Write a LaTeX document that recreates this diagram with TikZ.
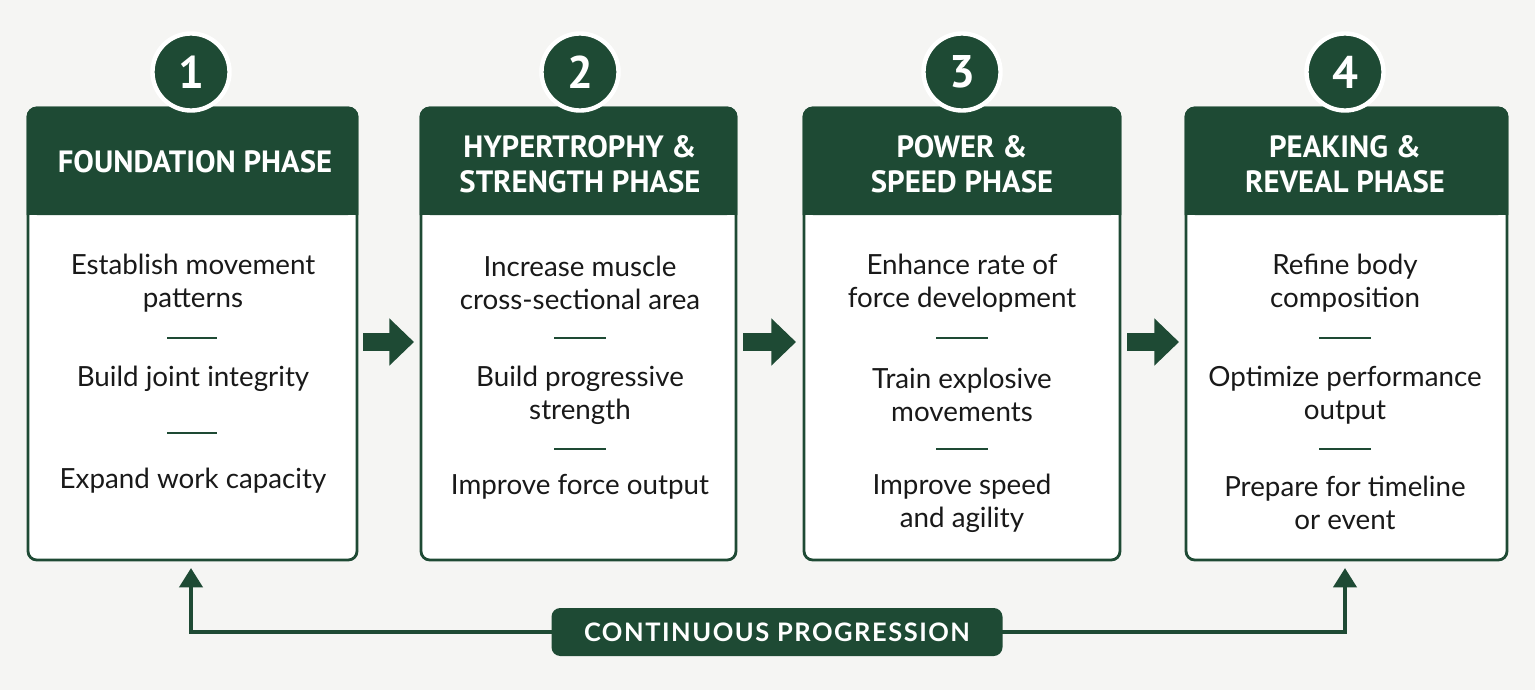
\documentclass[tikz,border=0pt]{standalone}
\usepackage{fontspec}
\setmainfont{Lato}
\newfontfamily\hdfont{PT Sans}
\usetikzlibrary{arrows.meta}
\definecolor{dg}{HTML}{1E4A34}
\definecolor{bg}{HTML}{F5F5F3}
\begin{document}
\begin{tikzpicture}[x=0.02cm,y=-0.02cm,
 box/.style={draw=dg,line width=1.6pt,rounded corners=5pt,fill=white},
 head/.style={fill=dg,rounded corners=5pt},
 htxt/.style={text=white,font=\hdfont\bfseries\fontsize{17.5}{20}\selectfont,align=center},
 num/.style={circle,fill=dg,draw=white,line width=2.5pt,minimum size=2.3cm*0.67,text=white,font=\hdfont\bfseries\fontsize{26}{28}\selectfont},
 btxt/.style={font=\fontsize{15.8}{19}\selectfont,align=center,text=black!90},
 sep/.style={dg,line width=1.4pt},
 flow/.style={-{Triangle[length=14pt,width=26pt]},dg,line width=10pt},
 loop/.style={-{Triangle[length=11pt,width=13pt]},dg,line width=2.5pt}]
\fill[bg] (0,0) rectangle (1535,690);
\useasboundingbox (0,0) rectangle (1535,690);
\foreach \n/\a/\b in {1/28/357,2/421/736,3/804/1120,4/1186/1507}{
 \draw[box] (\a,108) rectangle (\b,560);
 \fill[head] (\a,108) rectangle (\b,215);
 \fill[dg] (\a,160) rectangle (\b,215);
 \draw[dg,line width=1.6pt,rounded corners=5pt] (\a,215) -- (\a,108) -- (\b,108) -- (\b,215);
 \coordinate (b\n) at ({(\a+\b)/2},560);
}
\node[num] (c1) at (191,72) {1};
\node[num] (c2) at (580,72) {2};
\node[num] (c3) at (962,72) {3};
\node[num] (c4) at (1345,72) {4};
\node[htxt] (h1) at (195,162) {FOUNDATION PHASE};
\node[htxt] (h2) at (580,164) {HYPERTROPHY \&\\STRENGTH PHASE};
\node[htxt] (h3) at (962,164) {POWER \&\\SPEED PHASE};
\node[htxt] (h4) at (1345,164) {PEAKING \&\\REVEAL PHASE};
% box 1
\node[btxt] at (193,283) {Establish movement\\patterns};
\draw[sep] (167,338) -- (217,338);
\node[btxt] at (193,379) {Build joint integrity};
\draw[sep] (167,433) -- (217,433);
\node[btxt] at (193,481) {Expand work capacity};
% box 2
\node[btxt] at (580,283) {Increase muscle\\cross-sectional area};
\draw[sep] (554,338) -- (606,338);
\node[btxt] at (580,395) {Build progressive\\strength};
\draw[sep] (554,449) -- (606,449);
\node[btxt] at (580,487) {Improve force output};
% box 3
\node[btxt] at (962,283) {Enhance rate of\\force development};
\draw[sep] (936,338) -- (988,338);
\node[btxt] at (962,395) {Train explosive\\movements};
\draw[sep] (936,449) -- (988,449);
\node[btxt] at (962,503) {Improve speed\\and agility};
% box 4
\node[btxt] at (1345,283) {Refine body\\composition};
\draw[sep] (1319,338) -- (1371,338);
\node[btxt] at (1345,395) {Optimize performance\\output};
\draw[sep] (1319,449) -- (1371,449);
\node[btxt] at (1345,503) {Prepare for timeline\\or event};
% flow arrows
\coordinate (a1s) at (363,342); \coordinate (a1e) at (414,342);
\coordinate (a2s) at (743,342); \coordinate (a2e) at (796,342);
\coordinate (a3s) at (1127,342); \coordinate (a3e) at (1179,342);
\draw[flow] (a1s) -- (a1e);
\draw[flow] (a2s) -- (a2e);
\draw[flow] (a3s) -- (a3e);
% loop
\coordinate (t1) at (191,568); \coordinate (t4) at (1345,568);
\draw[loop] (780,632) -| (t1);
\draw[loop] (780,632) -| (t4);
\node[fill=dg,rounded corners=5pt,minimum width=451*0.02cm,minimum height=48*0.02cm,text=white,font=\fontsize{14.5}{16}\selectfont\bfseries] (cp) at (777,632) {\addfontfeature{LetterSpace=6}CONTINUOUS PROGRESSION};
\end{tikzpicture}
\end{document}
